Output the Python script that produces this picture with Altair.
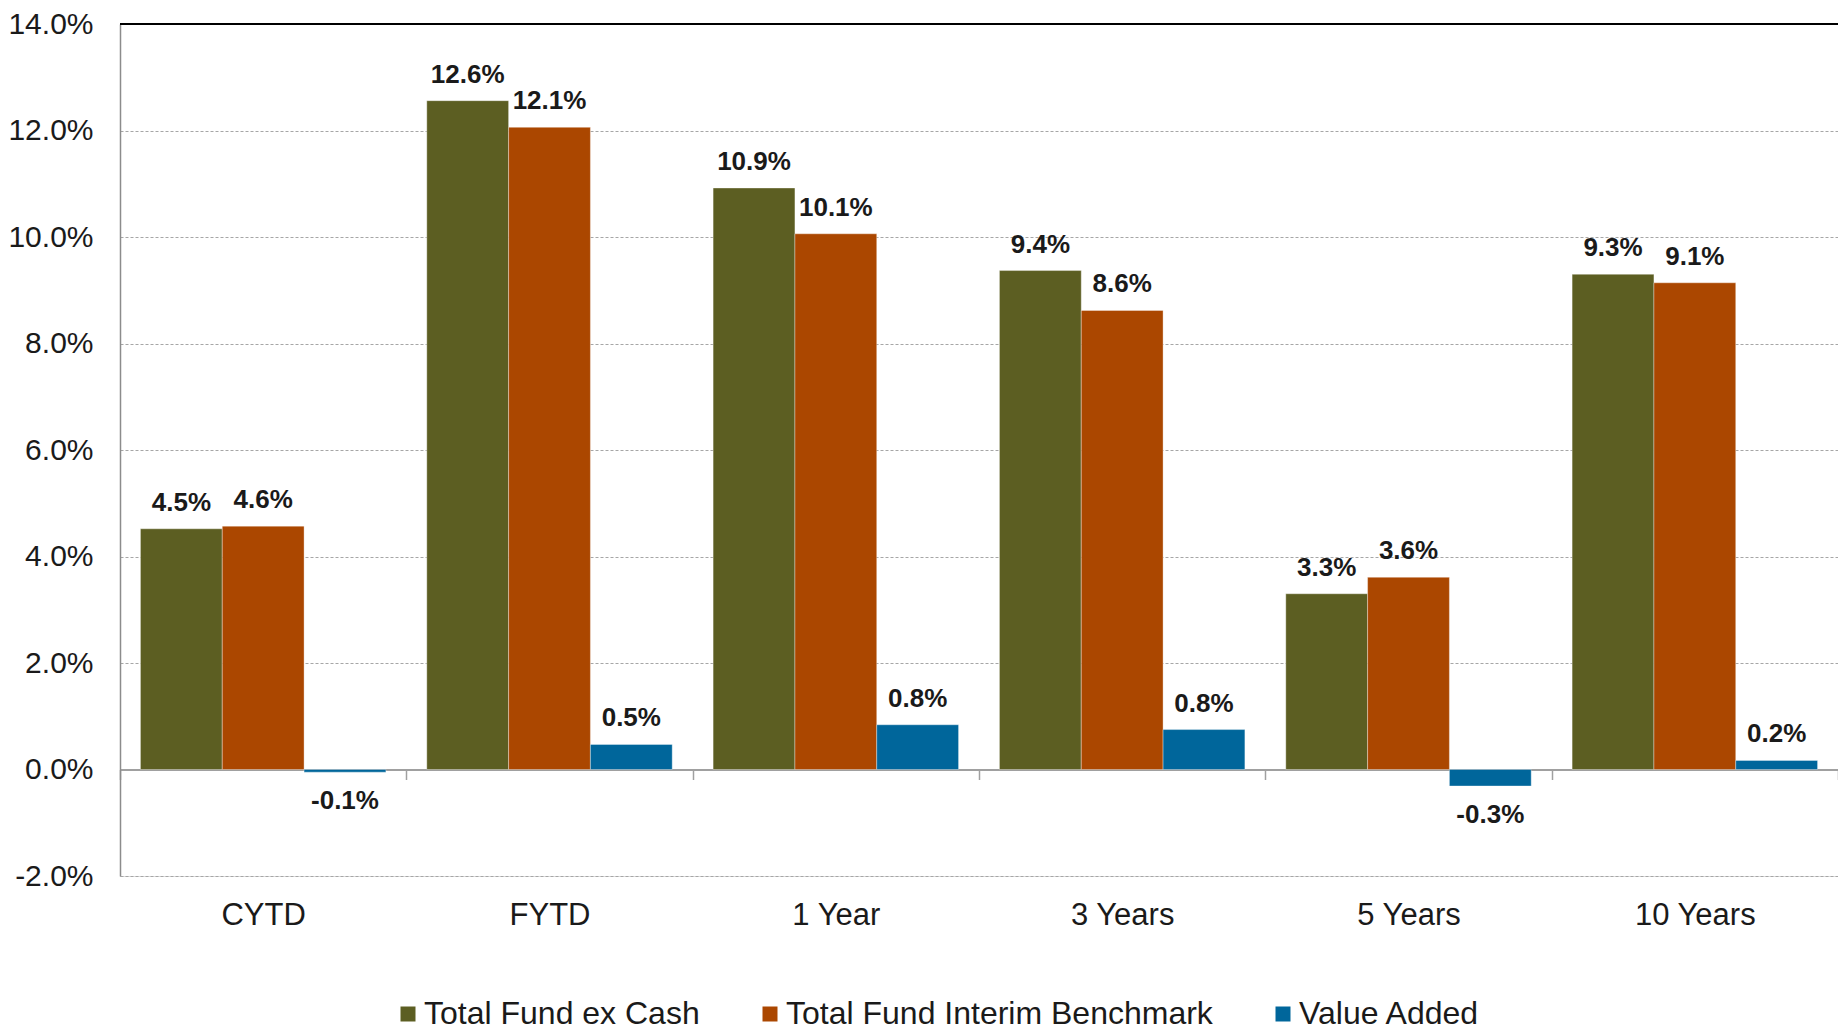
import altair as alt
import pandas as pd

categories = ["CYTD", "FYTD", "1 Year", "3 Years", "5 Years", "10 Years"]
series = ["Total Fund ex Cash", "Total Fund Interim Benchmark", "Value Added"]
fund = [4.52, 12.56, 10.92, 9.37, 3.30, 9.30]
bench = [4.57, 12.06, 10.06, 8.62, 3.61, 9.14]
value_added = [-0.05, 0.47, 0.84, 0.75, -0.31, 0.17]
colors = ["#5C5E22", "#AB4700", "#00669B"]
y_ticks = [-2, 0, 2, 4, 6, 8, 10, 12, 14]

rows = []
for s, vals in zip(series, [fund, bench, value_added]):
    for c, v in zip(categories, vals):
        rows.append({"cat": c, "series": s, "value": v, "label": f"{v:.1f}%"})
df = pd.DataFrame(rows)

W, H = 1718, 852
FONT = "Liberation Sans"
TXT = "#1a1a1a"

x_enc = alt.X(
    "cat:N", sort=categories,
    scale=alt.Scale(paddingInner=0, paddingOuter=0),
    axis=alt.Axis(
        title=None, orient="bottom", offset=-H * 2 / 16,
        domainColor="#A0A0A0", domainWidth=2,
        tickBand="extent", tickColor="#A0A0A0", tickSize=10, tickWidth=1.5,
        labelAngle=0, labelFontSize=31, labelFont=FONT, labelColor=TXT,
        labelPadding=121, grid=False,
    ),
)
xoff_enc = alt.XOffset(
    "series:N", sort=series,
    scale=alt.Scale(paddingInner=0, paddingOuter=0.25),
)
y_enc = alt.Y(
    "value:Q",
    scale=alt.Scale(domain=[-2, 14], nice=False, zero=False),
    axis=alt.Axis(
        values=y_ticks, title=None,
        labelExpr="(datum.value < 0 ? '-' : '') + format(abs(datum.value), '.1f') + '%'",
        grid=True, gridDash=[3, 2], gridColor="#A6A6A6", gridWidth=1,
        domainColor="#8C8C8C", domainWidth=1.5, ticks=False,
        labelFontSize=30, labelFont=FONT, labelColor=TXT, labelPadding=27,
    ),
)

base = alt.Chart(df).encode(x=x_enc, xOffset=xoff_enc, y=y_enc)

bars = base.mark_bar(stroke="white", strokeWidth=1, strokeOpacity=0.35).encode(
    color=alt.Color(
        "series:N", sort=series,
        scale=alt.Scale(domain=series, range=colors),
        legend=alt.Legend(
            title=None, orient="none", legendX=272, legendY=974,
            direction="horizontal", symbolType="square", symbolSize=225,
            symbolStrokeWidth=0, labelFontSize=32, labelFont=FONT,
            labelColor=TXT, labelOffset=0, columnPadding=54, padding=0,
            labelLimit=0,
        ),
    )
)

pos_text = base.transform_filter("datum.value >= 0").mark_text(
    baseline="middle", dy=-26, fontSize=26, fontWeight="bold", font=FONT, color=TXT
).encode(text="label:N")

neg_text = base.transform_filter("datum.value < 0").mark_text(
    baseline="middle", dy=29, fontSize=26, fontWeight="bold", font=FONT, color=TXT
).encode(text="label:N")

top_rule = alt.Chart(df).mark_rule(color="black", strokeWidth=1.5).encode(
    y=alt.datum(14)
)

chart = alt.layer(bars, pos_text, neg_text, top_rule).properties(
    width=W, height=H,
    autosize=alt.AutoSizeParams(type="none"),
    padding={"left": 112, "top": 16, "right": 0, "bottom": 156},
).configure_view(stroke=None).configure(font=FONT)

chart.save("out.html", embed_options={"renderer": "svg", "actions": False})
